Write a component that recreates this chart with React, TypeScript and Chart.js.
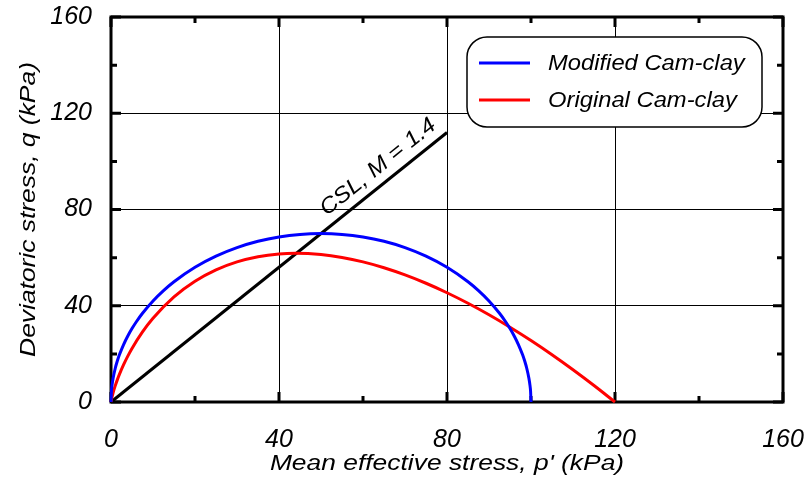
import React, { useEffect, useRef } from 'react';
import { Chart, registerables } from 'chart.js';
Chart.register(...registerables);

const FONT = '"Liberation Sans", Arial, sans-serif';

const xTicks = [0, 40, 80, 120, 160];
const yTicks = [0, 40, 80, 120, 160];

const seriesLabels = ['Modified Cam-clay', 'Original Cam-clay'];
const seriesColors = ['#0000ff', '#ff0000'];

const modP = [0, 0.1, 0.25, 0.5, 1, 1.5, 2, 3, 4, 5, 6, 7.5, 10, 12.5, 15, 20, 25, 30, 35, 40, 45, 50, 55, 60, 65, 70, 75, 80, 85, 87.5, 90, 92.5, 94, 95, 96, 97, 98, 98.5, 99, 99.5, 99.75, 99.9, 100];
const modQ = [0, 4.42, 6.99, 9.87, 13.93, 17.02, 19.6, 23.88, 27.43, 30.51, 33.25, 36.87, 42, 46.3, 49.99, 56, 60.62, 64.16, 66.78, 68.59, 69.65, 70, 69.65, 68.59, 66.78, 64.16, 60.62, 56, 49.99, 46.3, 42, 36.87, 33.25, 30.51, 27.43, 23.88, 19.6, 17.02, 13.93, 9.87, 6.99, 4.42, 0];

const origP = [0, 0.1, 0.25, 0.5, 1, 1.5, 2, 3, 4, 5, 7.5, 10, 15, 20, 25, 30, 35, 40, 44, 50, 55, 60, 65, 70, 75, 80, 85, 90, 95, 100, 105, 110, 115, 120];
const origQ = [0, 0.99, 2.16, 3.84, 6.7, 9.2, 11.46, 15.49, 19.05, 22.25, 29.11, 34.79, 43.67, 50.17, 54.9, 58.22, 60.38, 61.52, 61.8, 61.28, 60.07, 58.22, 55.79, 52.82, 49.35, 45.41, 41.03, 36.25, 31.07, 25.53, 19.63, 13.4, 6.85, 0];

const cslP = [0, 80];
const cslQ = [0, 112];
const cslLabel = 'CSL, M = 1.4';
const cslLabelAt = 66;

const xTitle = "Mean effective stress, p' (kPa)";
const yTitle = 'Deviatoric stress, q (kPa)';

const pts = (xs: number[], ys: number[]) => xs.map((x, i) => ({ x, y: ys[i] }));

// draw text with a horizontal stretch factor along its own direction
function stretchedText(ctx: any, text: string, x: number, y: number, rot: number, sx: number, font: string, align: string) {
  ctx.save();
  ctx.translate(x, y);
  ctx.rotate(rot);
  ctx.scale(sx, 1);
  ctx.font = font;
  ctx.textAlign = align;
  ctx.textBaseline = 'middle';
  ctx.fillStyle = '#000';
  ctx.fillText(text, 0, 0);
  ctx.restore();
}

const decorPlugin = {
  id: 'decor',
  beforeDatasetsDraw(chart: any) {
    const { ctx, chartArea: a, scales } = chart;
    const xs = scales.x, ys = scales.y;
    ctx.save();
    ctx.strokeStyle = '#000';
    ctx.lineWidth = 3;
    ctx.lineCap = 'butt';
    for (let v = 0; v <= 160; v += 20) {
      const len = v % 40 === 0 ? 10 : 6;
      const px = xs.getPixelForValue(v);
      ctx.beginPath();
      ctx.moveTo(px, a.bottom); ctx.lineTo(px, a.bottom - len);
      ctx.moveTo(px, a.top); ctx.lineTo(px, a.top + len);
      ctx.stroke();
      const py = ys.getPixelForValue(v);
      ctx.beginPath();
      ctx.moveTo(a.left, py); ctx.lineTo(a.left + len, py);
      ctx.moveTo(a.right, py); ctx.lineTo(a.right - len, py);
      ctx.stroke();
    }
    ctx.lineJoin = 'miter';
    ctx.strokeRect(a.left, a.top, a.right - a.left, a.bottom - a.top);
    ctx.restore();

    const titleFont = `italic 22px ${FONT}`;
    stretchedText(ctx, xTitle, (a.left + a.right) / 2, a.bottom + 62, 0, 1.2, titleFont, 'center');
    stretchedText(ctx, yTitle, a.left - 82, (a.top + a.bottom) / 2, -Math.PI / 2, 1.2, titleFont, 'center');
  },
  afterDatasetsDraw(chart: any) {
    const { ctx, chartArea: a, scales } = chart;
    const xs = scales.x, ys = scales.y;
    const x0 = xs.getPixelForValue(cslP[0]), y0 = ys.getPixelForValue(cslQ[0]);
    const x1 = xs.getPixelForValue(cslP[1]), y1 = ys.getPixelForValue(cslQ[1]);
    const ang = Math.atan2(y1 - y0, x1 - x0);
    const lx = xs.getPixelForValue(cslLabelAt);
    const ly = ys.getPixelForValue(cslLabelAt * cslQ[1] / cslP[1]);
    const d = 16;
    stretchedText(ctx, cslLabel, lx + d * Math.sin(ang), ly - d * Math.cos(ang), ang, 1.1, `italic 22px ${FONT}`, 'center');

    // legend
    ctx.save();
    const bw = 295, bh = 90;
    const bx = a.right - 316, by = a.top + 20;
    ctx.beginPath();
    (ctx as any).roundRect(bx, by, bw, bh, 20);
    ctx.fillStyle = '#fff';
    ctx.fill();
    ctx.lineWidth = 1.5;
    ctx.strokeStyle = '#000';
    ctx.stroke();
    seriesLabels.forEach((lab, i) => {
      const ry = by + 26 + i * 37;
      ctx.beginPath();
      ctx.moveTo(bx + 12, ry); ctx.lineTo(bx + 63, ry);
      ctx.strokeStyle = seriesColors[i];
      ctx.lineWidth = 3;
      ctx.stroke();
      stretchedText(ctx, lab, bx + 81, ry + 1, 0, 1.08, `italic 22px ${FONT}`, 'left');
    });
    ctx.restore();
  },
};

const zeroPad = (s: any) => { s.paddingTop = 0; s.paddingBottom = 0; s.paddingLeft = 0; s.paddingRight = 0; };

export default function App() {
  const ref = useRef<HTMLCanvasElement>(null);
  useEffect(() => {
    const tickFont = { family: FONT, size: 25, style: 'italic' as const };
    const chart = new Chart(ref.current!, {
      type: 'line',
      data: {
        datasets: [
          { label: seriesLabels[0], data: pts(modP, modQ), borderColor: seriesColors[0], borderWidth: 3, pointRadius: 0, cubicInterpolationMode: 'monotone', clip: false as any },
          { label: seriesLabels[1], data: pts(origP, origQ), borderColor: seriesColors[1], borderWidth: 3, pointRadius: 0, cubicInterpolationMode: 'monotone', clip: false as any },
          { label: 'CSL', data: pts(cslP, cslQ), borderColor: '#000', borderWidth: 3, pointRadius: 0, clip: false as any },
        ],
      },
      options: {
        animation: false,
        responsive: false,
        devicePixelRatio: 1,
        layout: { padding: { top: 17, right: 25, left: 0, bottom: 0 } },
        plugins: { legend: { display: false }, tooltip: { enabled: false } },
        scales: {
          x: {
            type: 'linear', min: 0, max: 160,
            afterBuildTicks: (s: any) => { s.ticks = xTicks.map((v) => ({ value: v })); },
            afterFit: (s: any) => { s.height = 81; zeroPad(s); },
            grid: { color: '#000', lineWidth: 1, drawTicks: false },
            border: { display: false },
            ticks: { padding: 23, font: tickFont, color: '#000', maxRotation: 0 },
            title: { display: false },
          },
          y: {
            type: 'linear', min: 0, max: 160,
            afterBuildTicks: (s: any) => { s.ticks = yTicks.map((v) => ({ value: v })); },
            afterFit: (s: any) => { s.width = 111; zeroPad(s); },
            grid: { color: '#000', lineWidth: 1, drawTicks: false },
            border: { display: false },
            ticks: { padding: 19, font: tickFont, color: '#000' },
            title: { display: false },
          },
        },
      },
      plugins: [decorPlugin],
    });
    return () => chart.destroy();
  }, []);
  return (
    <div style={{ position: 'absolute', left: 0, top: 0, width: 808, height: 483, background: '#fff' }}>
      <canvas ref={ref} width={808} height={483} />
    </div>
  );
}
